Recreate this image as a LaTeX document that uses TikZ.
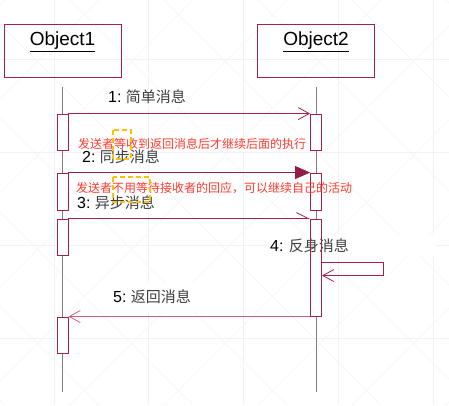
\documentclass[tikz,border=0pt]{standalone}
\usepackage{fontspec}
\setmainfont{Liberation Sans}
\newfontfamily\cjk{Noto Sans CJK SC}
\usetikzlibrary{arrows.meta,calc}

\definecolor{umlred}{HTML}{A3204E}
\definecolor{notered}{HTML}{FF3B2F}
\definecolor{selyellow}{HTML}{FFC000}

\begin{document}
\begin{tikzpicture}[
            x=1pt, y=-1pt,
            objbox/.style={draw=umlred, line width=0.9pt, minimum width=117pt, minimum height=53pt},
            objname/.style={font=\fontsize{19}{21}\selectfont, inner sep=1pt},
            act/.style={draw=umlred, fill=white, line width=0.9pt, minimum width=11pt, inner sep=0pt},
            lifeline/.style={draw=gray, line width=0.6pt},
            msg/.style={draw=umlred, line width=0.8pt},
            msglabel/.style={font=\fontsize{16}{18}\selectfont, fill=white, inner sep=2pt, anchor=west},
            note/.style={font=\cjk\fontsize{12}{14}\selectfont, text=notered, inner sep=0pt, anchor=west},
            selbox/.style={draw=selyellow, line width=1.6pt, dash pattern=on 5pt off 3pt}
        ]
            \useasboundingbox (0,0) rectangle (449,405);
            \fill[white] (0,0) rectangle (449,405);

            % faint background grid
            \foreach \gx in {54,148,243,338,433}
                \draw[gray!10, line width=0.5pt] (\gx,0) -- (\gx,405);
            \foreach \gy in {59,152,245,338}
                \draw[gray!10, line width=0.5pt] (0,\gy) -- (449,\gy);
            \foreach \d in {-400,-306,...,500}
            {
                \draw[gray!8, line width=0.5pt] (\d,0) -- ++(405,405);
                \draw[gray!8, line width=0.5pt] (\d,405) -- ++(405,-405);
            }

            % objects
            \node[objbox] (obj1) at (62.5,50.5) {};
            \node[objbox] (obj2) at (316,50.5) {};
            \node[objname] at ([yshift=-18pt]obj1.north) {\underline{Object1}};
            \node[objname] at ([yshift=-18pt]obj2.north) {\underline{Object2}};

            % lifelines
            \coordinate (end1) at (62.5,392);
            \coordinate (end2) at (316,392);
            \draw[lifeline] ([yshift=-10pt]obj1.south) -- (end1);
            \draw[lifeline] ([yshift=-10pt]obj2.south) -- (end2);

            % activation boxes
            \node[act, minimum height=36pt] (l1) at (62.5,132) {};
            \node[act, minimum height=37pt] (l2) at (62.5,191.5) {};
            \node[act, minimum height=36pt] (l3) at (62.5,237) {};
            \node[act, minimum height=36pt] (l4) at (62.5,335) {};
            \node[act, minimum height=36pt] (r1) at (316,132) {};
            \node[act, minimum height=37pt] (r2) at (316,191.5) {};
            \node[act, minimum height=97pt] (r3) at (316,267.5) {};

            % messages
            \draw[msg, -{Straight Barb[length=11pt,width=12pt,line width=0.8pt]}] (l1.north east) -- (r1.north west);
            \draw[msg, -{Triangle[length=15pt,width=13pt]}, umlred!90!black] (l2.north east) -- (r2.north west);
            \draw[msg, -{Straight Barb[left,length=12pt,width=12pt,line width=0.8pt]}] (l3.north east) -- (r3.north west);
            \coordinate (self1) at ($(r3.north east)+(0,44)$);
            \coordinate (self2) at ($(r3.north east)+(61,57)$);
            \draw[msg, -{Straight Barb[length=11pt,width=12pt,line width=0.8pt]}] (self1) -- (self1 -| self2) -- (self2) -- (self2 -| r3.east);
            \draw[msg, draw=umlred!60!pink, -{Straight Barb[length=11pt,width=12pt,line width=0.8pt]}] (r3.south west) -- (l4.north east);

            % message labels
            \node[msglabel] (m1) at (106,97) {1:\ {\cjk\fontsize{15}{17}\selectfont\color{black!75} 简单消息}};
            \node[msglabel, fill=none] (m2) at (80,157) {2:\ {\cjk\fontsize{15}{17}\selectfont\color{black!75} 同步消息}};
            \node[msglabel, fill=none] (m3) at (75,203) {3:\ {\cjk\fontsize{15}{17}\selectfont\color{black!75} 异步消息}};
            \node[msglabel, text width=164pt, align=left, minimum height=21pt] (m4) at (268,245.5) {4:\ {\cjk\fontsize{15}{17}\selectfont\color{black!75} 反身消息}};
            \node[msglabel, minimum height=29pt] (m5) at (111,297) {5:\ {\cjk\fontsize{15}{17}\selectfont\color{black!75} 返回消息}\hspace{76pt}};
            \node[act, fill=none, minimum height=97pt] (r3top) at (r3) {};   % box outline over label 4

            % notes
            \node[note] (n1) at (78,144) {发送者等收到返回消息后才继续后面的执行};
            \node[note] (n2) at (76,188) {发送者不用等待接收者的回应，可以继续自己的活动};

            % selection marks
            \draw[selbox] (113,130) rectangle (131,159);
            \draw[selbox] (113,177) rectangle (150,202);
        \end{tikzpicture}
\end{document}
